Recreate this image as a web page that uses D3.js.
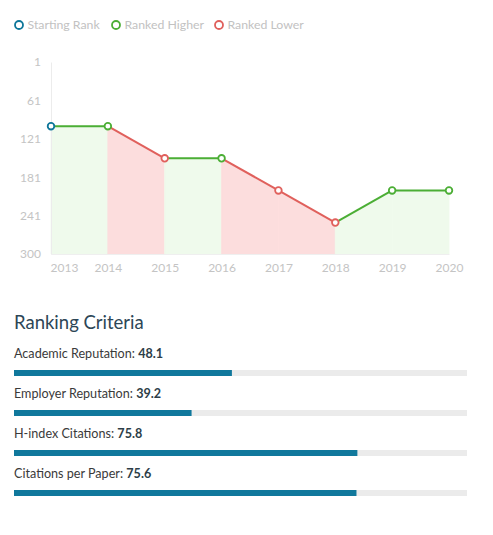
<!DOCTYPE html>
<html><head><meta charset="utf-8">
<script src="https://cdn.jsdelivr.net/npm/d3@7"></script>
<style>
html,body{margin:0;padding:0;background:#fff;}
svg{display:block;font-family:Lato,"Open Sans",sans-serif;}
</style></head>
<body>
<svg id="c" width="493" height="535"></svg>
<script>
const years = [2013, 2014, 2015, 2016, 2017, 2018, 2019, 2020];
const ranks = [101, 101, 151, 151, 201, 251, 201, 201];
const yTicks = [1, 61, 121, 181, 241, 300];
const legendLabels = ["Starting Rank", "Ranked Higher", "Ranked Lower"];
const criteria = ["Academic Reputation", "Employer Reputation", "H-index Citations", "Citations per Paper"];
const scores = [48.1, 39.2, 75.8, 75.6];

const BLUE = "#0e7699", GREEN = "#4bae35", RED = "#e0605c";
const GREEN_FILL = "#effaec", RED_FILL = "#fcdddd";

const svg = d3.select("#c");

// Legend
const legColors = [BLUE, GREEN, RED];
const legX = [19, 116, 219];
const leg = svg.append("g");
legendLabels.forEach((t, i) => {
  leg.append("circle").attr("cx", legX[i]).attr("cy", 25).attr("r", 4)
    .attr("fill", "#fff").attr("stroke", legColors[i]).attr("stroke-width", 1.8);
  leg.append("text").attr("x", legX[i] + 8.5).attr("y", 29.3).text(t)
    .attr("font-size", 12.3).attr("fill", "#c2c2c2");
});

// Line chart
const x = d3.scalePoint().domain(years).range([51, 449]);
const y = d3.scaleLinear().domain([1, 300]).range([62, 254]);

const segs = [];
for (let i = 1; i < years.length; i++) {
  segs.push({x0: years[i-1], x1: years[i], r0: ranks[i-1], r1: ranks[i], up: ranks[i] <= ranks[i-1]});
}

const g = svg.append("g");
segs.forEach(s => {
  const area = d3.area().x(d => x(d[0])).y0(y(300)).y1(d => y(d[1]));
  const c = s.up ? GREEN_FILL : RED_FILL;
  g.append("path").attr("d", area([[s.x0, s.r0], [s.x1, s.r1]]))
    .attr("fill", c).attr("stroke", c).attr("stroke-width", 0.8);
});

// axes
const yAxis = d3.axisLeft(y).tickValues(yTicks).tickSize(0).tickPadding(10);
const ya = g.append("g").attr("transform", "translate(51,0)").call(yAxis);
ya.select(".domain").attr("stroke", "#ececec");
ya.selectAll("text").attr("font-size", 12).attr("fill", "#c4c4c4")
  .attr("font-family", "Lato,'Open Sans',sans-serif");

const xAxis = d3.axisBottom(x).tickSize(0).tickPadding(9);
const xa = g.append("g").attr("transform", "translate(0,254)").call(xAxis);
xa.select(".domain").attr("stroke", "#efefef");
xa.selectAll("text").attr("font-size", 12).attr("fill", "#c4c4c4")
  .attr("font-family", "Lato,'Open Sans',sans-serif")
  .attr("dx", (d, i) => i === 0 ? 13 : 0);

// lines
segs.forEach(s => {
  const line = d3.line().x(d => x(d[0])).y(d => y(d[1]));
  g.append("path").attr("d", line([[s.x0, s.r0], [s.x1, s.r1]]))
    .attr("fill", "none").attr("stroke", s.up ? GREEN : RED).attr("stroke-width", 2);
});

// markers
years.forEach((yr, i) => {
  let col = BLUE;
  if (i > 0) col = ranks[i] <= ranks[i-1] ? GREEN : RED;
  g.append("circle").attr("cx", x(yr)).attr("cy", y(ranks[i])).attr("r", 3.3)
    .attr("fill", "#fff").attr("stroke", col).attr("stroke-width", 1.8);
});

// Ranking criteria
svg.append("text").attr("x", 14).attr("y", 329).text("Ranking Criteria")
  .attr("font-size", 18.5).attr("fill", "#2d4656");

const bx = d3.scaleLinear().domain([0, 100]).range([14, 467]);
const rowY = d3.scaleBand().domain(criteria).range([338, 498]);

criteria.forEach((c, i) => {
  const top = rowY(c);
  const t = svg.append("text").attr("x", 14).attr("y", top + 19.5)
    .attr("font-size", 12.6).attr("fill", "#3a3a3a");
  t.append("tspan").text(c + ": ");
  t.append("tspan").text(scores[i]).attr("font-weight", "bold").attr("fill", "#2d3e48");
  svg.append("rect").attr("x", bx(0)).attr("y", top + 32).attr("width", bx(100) - bx(0)).attr("height", 6)
    .attr("fill", "#ebebeb");
  svg.append("rect").attr("x", bx(0)).attr("y", top + 32).attr("width", bx(scores[i]) - bx(0)).attr("height", 6)
    .attr("fill", "#10789c");
});
</script>
</body></html>
